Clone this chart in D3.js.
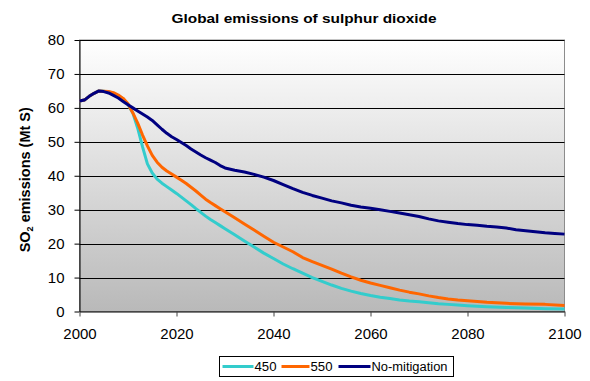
<!DOCTYPE html>
<html>
<head>
<meta charset="utf-8">
<script src="https://cdn.jsdelivr.net/npm/d3@7"></script>
<style>
    body { margin: 0; background: #fff; }
    text { font-family: "Liberation Sans", Arial, sans-serif; fill: #000; }
</style>
</head>
<body>
<div id="chart"></div>
<script>
// Data (Mt S)
const years450 = [2000, 2001, 2002, 2003, 2004, 2005, 2006, 2007, 2008, 2009, 2010, 2011, 2012, 2013, 2014, 2015, 2016, 2017, 2018, 2019, 2020, 2021, 2022, 2023, 2024, 2025, 2026, 2027, 2028, 2029, 2030, 2032, 2034, 2036, 2038, 2040, 2042, 2044, 2046, 2048, 2050, 2052, 2054, 2056, 2058, 2060, 2062, 2064, 2066, 2068, 2070, 2072, 2074, 2076, 2078, 2080, 2084, 2088, 2092, 2096, 2100]
const values450 = [62.0, 62.3, 63.4, 64.3, 65.0, 64.9, 64.7, 64.3, 63.6, 62.6, 61.0, 58.5, 54.0, 48.5, 43.5, 40.8, 39.0, 37.8, 36.8, 35.8, 34.8, 33.7, 32.6, 31.5, 30.3, 29.2, 28.1, 27.1, 26.2, 25.3, 24.4, 22.6, 20.8, 19.0, 17.2, 15.6, 14.0, 12.6, 11.3, 10.0, 8.9, 7.8, 6.8, 6.0, 5.3, 4.7, 4.2, 3.8, 3.4, 3.1, 2.9, 2.6, 2.3, 2.1, 1.9, 1.7, 1.4, 1.2, 1.0, 0.8, 0.7]

const years550 = [2000, 2001, 2002, 2003, 2004, 2005, 2006, 2007, 2008, 2009, 2010, 2011, 2012, 2013, 2014, 2015, 2016, 2017, 2018, 2019, 2020, 2021, 2022, 2023, 2024, 2025, 2026, 2027, 2028, 2029, 2030, 2032, 2034, 2036, 2038, 2040, 2042, 2044, 2046, 2048, 2050, 2052, 2054, 2056, 2058, 2060, 2062, 2064, 2066, 2068, 2070, 2072, 2074, 2076, 2078, 2080, 2084, 2088, 2092, 2096, 2100]
const values550 = [62.0, 62.3, 63.4, 64.3, 65.0, 64.9, 64.8, 64.5, 63.8, 62.8, 61.2, 58.5, 55.5, 52.0, 48.8, 46.0, 44.0, 42.5, 41.4, 40.5, 39.6, 38.7, 37.7, 36.6, 35.5, 34.3, 33.1, 32.1, 31.2, 30.3, 29.4, 27.6, 25.8, 24.0, 22.2, 20.4, 19.0, 17.6, 15.9, 14.7, 13.6, 12.5, 11.3, 10.2, 9.2, 8.4, 7.7, 7.0, 6.3, 5.7, 5.2, 4.6, 4.1, 3.7, 3.4, 3.2, 2.7, 2.4, 2.2, 2.1, 1.8]

const yearsNoMit = [2000, 2001, 2002, 2003, 2004, 2005, 2006, 2007, 2008, 2009, 2010, 2011, 2012, 2013, 2014, 2015, 2016, 2017, 2018, 2019, 2020, 2021, 2022, 2023, 2024, 2025, 2026, 2027, 2028, 2029, 2030, 2032, 2034, 2036, 2038, 2040, 2042, 2044, 2046, 2048, 2050, 2052, 2054, 2056, 2058, 2060, 2062, 2064, 2066, 2068, 2070, 2072, 2074, 2076, 2078, 2080, 2082, 2084, 2086, 2088, 2090, 2092, 2094, 2096, 2098, 2100]
const valuesNoMit = [62.0, 62.3, 63.4, 64.3, 65.0, 64.8, 64.4, 63.7, 62.9, 61.9, 60.9, 60.0, 59.1, 58.2, 57.3, 56.3, 55.0, 53.7, 52.5, 51.5, 50.7, 49.8, 48.9, 47.9, 47.0, 46.1, 45.3, 44.6, 43.9, 43.0, 42.3, 41.6, 41.1, 40.4, 39.6, 38.6, 37.4, 36.2, 35.1, 34.2, 33.4, 32.6, 32.0, 31.3, 30.8, 30.4, 30.0, 29.5, 29.0, 28.5, 28.0, 27.3, 26.7, 26.3, 25.9, 25.6, 25.4, 25.1, 24.9, 24.6, 24.1, 23.8, 23.5, 23.2, 23.0, 22.8]

const seriesNames = ['450', '550', 'No-mitigation']
const seriesColors = ['#33cccc', '#ff6600', '#000080']
const xTicks = [2000, 2020, 2040, 2060, 2080, 2100]
const yTicks = [0, 10, 20, 30, 40, 50, 60, 70, 80]

const seriesList = [
    {name: seriesNames[0], color: seriesColors[0], points: years450.map((y, i) => ({year: y, value: values450[i]}))},
    {name: seriesNames[1], color: seriesColors[1], points: years550.map((y, i) => ({year: y, value: values550[i]}))},
    {name: seriesNames[2], color: seriesColors[2], points: yearsNoMit.map((y, i) => ({year: y, value: valuesNoMit[i]}))}
]

const width = 590
const height = 381
const margin = {top: 40, right: 25.5, bottom: 69.5, left: 79.5}
const innerW = width - margin.left - margin.right
const innerH = height - margin.top - margin.bottom

const svg = d3.select('#chart')
    .append('svg')
    .attr('width', width)
    .attr('height', height)

// Grey gradient for the plot area
const grad = svg.append('defs').append('linearGradient')
    .attr('id', 'plotBg')
    .attr('x1', 0).attr('y1', 0)
    .attr('x2', 0).attr('y2', 1)
grad.append('stop').attr('offset', '0%').attr('stop-color', '#ffffff')
grad.append('stop').attr('offset', '100%').attr('stop-color', '#b9b9b9')

// Title
svg.append('text')
    .attr('x', 171.5)
    .attr('y', 23)
    .attr('textLength', 265)
    .attr('lengthAdjust', 'spacingAndGlyphs')
    .style('font-size', '13px')
    .style('font-weight', 'bold')
    .text('Global emissions of sulphur dioxide')

const g = svg.append('g')
    .attr('transform', `translate(${margin.left}, ${margin.top})`)

const x = d3.scaleLinear().domain([2000, 2100]).range([0, innerW])
const y = d3.scaleLinear().domain([0, 80]).range([innerH, 0])

g.append('rect')
    .attr('width', innerW)
    .attr('height', innerH)
    .attr('fill', 'url(#plotBg)')
    .attr('stroke', '#8c8c8c')
    .attr('stroke-width', 1)

// Horizontal gridlines
g.selectAll('.grid')
    .data(yTicks.filter(d => d > 0))
    .join('line')
    .attr('class', 'grid')
    .attr('x1', 0)
    .attr('x2', innerW)
    .attr('y1', d => Math.round(y(d)) + 0.5)
    .attr('y2', d => Math.round(y(d)) + 0.5)
    .attr('stroke', '#000')
    .attr('stroke-width', 1)

// Axes
const yAxis = g.append('g')
    .call(d3.axisLeft(y).tickValues(yTicks).tickSize(5).tickSizeOuter(0).tickPadding(10))
yAxis.select('.domain').attr('stroke', '#000')
yAxis.selectAll('.tick line').attr('stroke', '#000')
yAxis.selectAll('text')
    .style('font-size', '15px')
    .style('font-family', '"Liberation Sans", Arial, sans-serif')
    .attr('fill', '#000')

const xAxis = g.append('g')
    .attr('transform', `translate(0, ${innerH})`)
    .call(d3.axisBottom(x).tickValues(xTicks).tickFormat(d3.format('d')).tickSize(5).tickSizeOuter(0).tickPadding(12))
xAxis.select('.domain').attr('stroke', '#000')
xAxis.selectAll('.tick line').attr('stroke', '#444')
xAxis.selectAll('text')
    .style('font-size', '15px')
    .style('font-family', '"Liberation Sans", Arial, sans-serif')
    .attr('fill', '#000')

// Lines
const line = d3.line()
    .x(d => x(d.year))
    .y(d => y(d.value))

g.selectAll('.series')
    .data(seriesList)
    .join('path')
    .attr('class', 'series')
    .attr('d', d => line(d.points))
    .attr('fill', 'none')
    .attr('stroke', d => d.color)
    .attr('stroke-width', 3)
    .attr('stroke-linejoin', 'round')

// Y axis label with subscript
const yLabel = svg.append('text')
    .attr('transform', `translate(30, ${margin.top + innerH / 2 + 4}) rotate(-90)`)
    .attr('text-anchor', 'middle')
    .style('font-size', '14.5px')
    .style('font-weight', 'bold')
yLabel.append('tspan').text('SO')
yLabel.append('tspan').attr('dy', 3).style('font-size', '9px').text('2')
yLabel.append('tspan').attr('dy', -3).text(' emissions (Mt S)')

// Legend
const legend = svg.append('g').attr('transform', 'translate(219.5, 356.5)')
legend.append('rect')
    .attr('width', 234)
    .attr('height', 20)
    .attr('fill', '#fff')
    .attr('stroke', '#000')

const legendItems = [
    {x: 3, len: 31, textW: 22},
    {x: 62, len: 28, textW: 22},
    {x: 119, len: 32, textW: 76}
]
legendItems.forEach((it, i) => {
    legend.append('line')
        .attr('x1', it.x)
        .attr('x2', it.x + it.len)
        .attr('y1', 10)
        .attr('y2', 10)
        .attr('stroke', seriesColors[i])
        .attr('stroke-width', 3)
    legend.append('text')
        .attr('x', it.x + it.len + 1)
        .attr('y', 14.5)
        .attr('textLength', it.textW)
        .attr('lengthAdjust', 'spacingAndGlyphs')
        .style('font-size', '12.5px')
        .text(seriesNames[i])
})
</script>
</body>
</html>
